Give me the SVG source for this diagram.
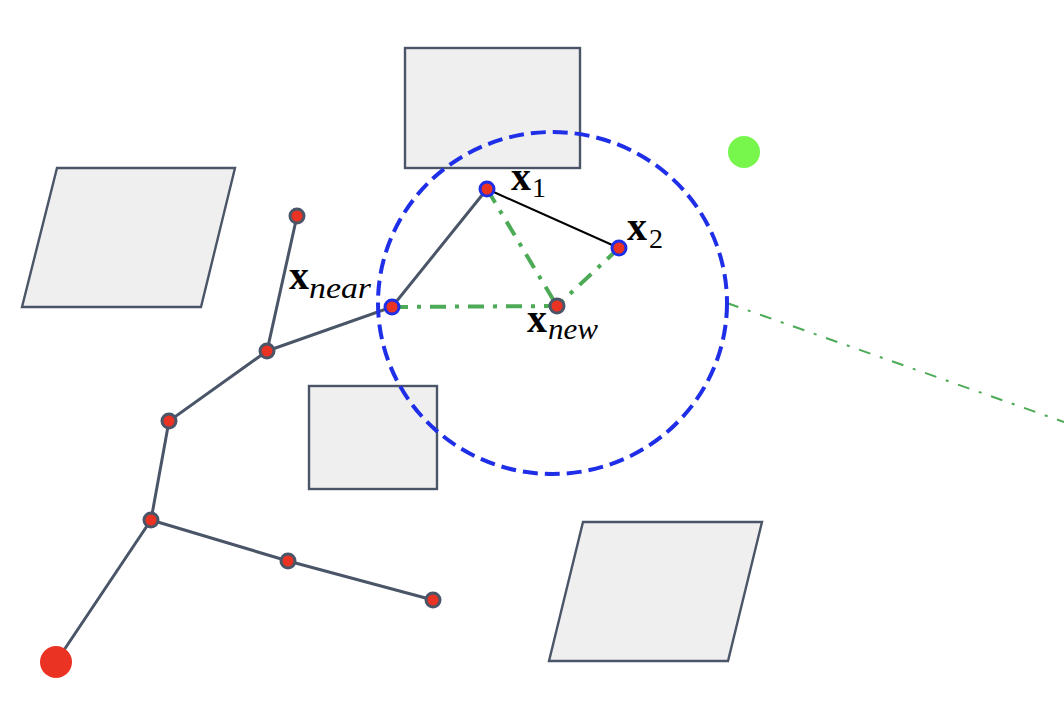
<svg xmlns="http://www.w3.org/2000/svg" width="1064" height="724" viewBox="0 0 1064 724">
<style>
.obs{fill:#efefef;stroke:#4a5568;stroke-width:2.4}
.edge{stroke:#4a5568;stroke-width:3;fill:none}
.node{fill:#ea3323;stroke:#4a5568;stroke-width:3}
.bnode{fill:#ea3323;stroke:#1f2fe8;stroke-width:3}
.gd{stroke:#4daa57;stroke-width:4;fill:none;stroke-dasharray:16 9 4 9}
.gt{stroke:#4daa57;stroke-width:2;fill:none;stroke-dasharray:12 10 3 10}
.lx{font-family:"Liberation Serif",serif;font-weight:bold;font-size:40px;fill:#000}
.ls{font-family:"Liberation Serif",serif;font-size:28px;fill:#000}
.li{font-family:"Liberation Serif",serif;font-style:italic;font-size:30px;fill:#000}
</style>
<rect width="1064" height="724" fill="#fff"/>
<g id="obstacles">
<rect id="obs-top" class="obs" x="405" y="48" width="175" height="120"/>
<rect id="obs-mid" class="obs" x="309" y="386" width="128" height="103"/>
<polygon id="obs-left" class="obs" points="57,168 235,168 201,307 22,307"/>
<polygon id="obs-br" class="obs" points="583,522 762,522 728,661 549,661"/>
</g>
<g id="connectors">
<polyline class="edge" points="56,662 151,520 169,421 267,351 297,216"/>
<polyline class="edge" points="267,351 392,307 487,189"/>
<polyline class="edge" points="151,520 288,561 433,600"/>
<line x1="487" y1="189" x2="619" y2="248" stroke="#000" stroke-width="2"/>
<line class="gd" x1="392" y1="307" x2="557" y2="306"/>
<line class="gd" x1="487" y1="189" x2="557" y2="306"/>
<line class="gd" x1="619" y1="248" x2="557" y2="306"/>
<line class="gt" x1="727" y1="303" x2="1064" y2="422"/>
</g>
<g id="radius">
<ellipse cx="552.5" cy="303" rx="174.5" ry="171" fill="none" stroke="#1f2fe8" stroke-width="4" stroke-dasharray="15 7"/>
</g>
<g id="start"><circle cx="56" cy="662" r="16" fill="#ea3323"/></g>
<g id="goal"><circle cx="744" cy="152" r="16" fill="#77f74b"/></g>
<g id="n1"><circle class="node" cx="297" cy="216" r="7"/></g>
<g id="n2"><circle class="node" cx="267" cy="351" r="7"/></g>
<g id="n3"><circle class="node" cx="169" cy="421" r="7"/></g>
<g id="n4"><circle class="node" cx="151" cy="520" r="7"/></g>
<g id="n5"><circle class="node" cx="288" cy="561" r="7"/></g>
<g id="n6"><circle class="node" cx="433" cy="600" r="7"/></g>
<g id="xnear"><circle class="bnode" cx="392" cy="307" r="7"/>
<text class="lx" x="289" y="289" textLength="20" lengthAdjust="spacingAndGlyphs">x</text><text class="li" x="309" y="298" textLength="62" lengthAdjust="spacingAndGlyphs">near</text></g>
<g id="x1"><circle class="bnode" cx="487" cy="189" r="7"/>
<text class="lx" x="511" y="190" textLength="20" lengthAdjust="spacingAndGlyphs">x</text><text class="ls" x="532" y="197">1</text></g>
<g id="x2"><circle class="bnode" cx="619" cy="248" r="7"/>
<text class="lx" x="627" y="240" textLength="20" lengthAdjust="spacingAndGlyphs">x</text><text class="ls" x="649" y="248">2</text></g>
<g id="xnew"><circle class="node" cx="557" cy="306" r="7"/>
<text class="lx" x="527" y="332" textLength="20" lengthAdjust="spacingAndGlyphs">x</text><text class="li" x="548" y="339" textLength="50" lengthAdjust="spacingAndGlyphs">new</text></g>
</svg>
